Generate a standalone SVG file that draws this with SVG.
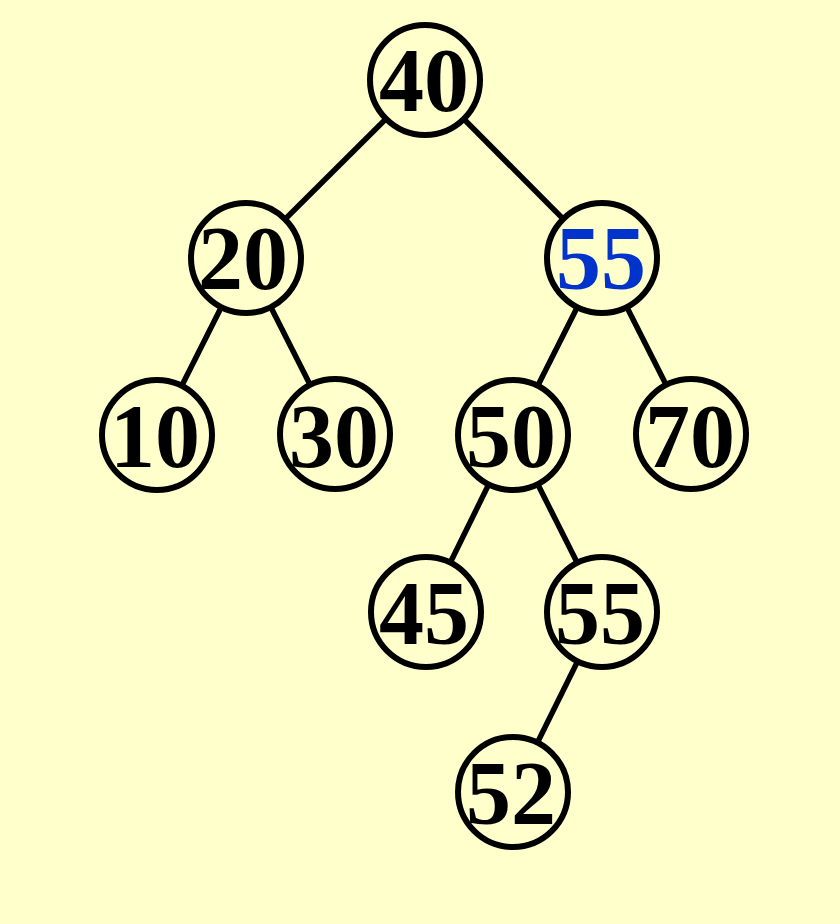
<svg xmlns="http://www.w3.org/2000/svg" width="840" height="924" viewBox="0 0 840 924">
<style>
.n circle{fill:#FFFFCC;stroke:#000;stroke-width:6}
.n text{font-family:"Liberation Serif","Times New Roman",serif;font-weight:bold;font-size:90px;text-anchor:middle;fill:#000}
.n text.b{fill:#0033CC}
#edges line{stroke:#000;stroke-width:5.5}
</style>
<rect width="840" height="924" fill="#FFFFCC"/>
<g id="edges">
<line x1="425" y1="80" x2="246" y2="258"/>
<line x1="425" y1="80" x2="602" y2="258"/>
<line x1="246" y1="258" x2="157" y2="435"/>
<line x1="246" y1="258" x2="335" y2="434"/>
<line x1="602" y1="258" x2="513" y2="435"/>
<line x1="602" y1="258" x2="691" y2="434"/>
<line x1="513" y1="435" x2="426" y2="612"/>
<line x1="513" y1="435" x2="602" y2="612"/>
<line x1="602" y1="612" x2="513" y2="792"/>
</g>
<g id="n40" class="n"><circle cx="425" cy="80" r="55"/><text x="424" y="111">40</text></g>
<g id="n20" class="n"><circle cx="246" cy="258" r="55"/><text x="243" y="289">20</text></g>
<g id="n55a" class="n"><circle cx="602" cy="258" r="55"/><text class="b" x="601" y="289">55</text></g>
<g id="n10" class="n"><circle cx="157" cy="435" r="55"/><text x="155" y="467">10</text></g>
<g id="n30" class="n"><circle cx="335" cy="434" r="55"/><text x="334" y="467">30</text></g>
<g id="n50" class="n"><circle cx="513" cy="435" r="55"/><text x="511" y="467">50</text></g>
<g id="n70" class="n"><circle cx="691" cy="434" r="55"/><text x="690" y="467">70</text></g>
<g id="n45" class="n"><circle cx="426" cy="612" r="55"/><text x="424" y="644">45</text></g>
<g id="n55b" class="n"><circle cx="602" cy="612" r="55"/><text x="600" y="644">55</text></g>
<g id="n52" class="n"><circle cx="513" cy="792" r="55"/><text x="511" y="824">52</text></g>
</svg>
